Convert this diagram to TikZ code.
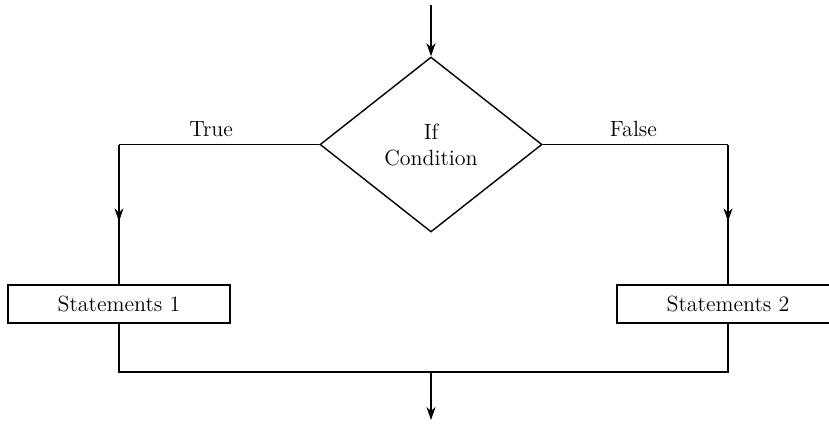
\documentclass[tikz,border=0pt]{standalone}
\usetikzlibrary{shapes.geometric,arrows.meta,decorations.markings}
\tikzset{
  flowline/.style={line width=0.7pt},
  midarrow/.style={flowline,decoration={markings,mark=at position 0.55 with {\arrow{Stealth[length=6.5pt,width=4.5pt,inset=2pt]}}},postaction={decorate}},
  endarrow/.style={flowline,-{Stealth[length=6.5pt,width=4.5pt,inset=2pt]}},
  decision/.style={diamond,draw,flowline,aspect=1.27,minimum width=111pt,minimum height=87.5pt,inner sep=0pt,align=center},
  stmtbox/.style={rectangle,draw,flowline,minimum width=111pt,minimum height=19pt,inner sep=0pt}
}
\begin{document}
\begin{tikzpicture}[x=0.5pt,y=-0.5pt,font=\fontsize{11}{13}\selectfont]
\useasboundingbox (0,0) rectangle (829,425);
%\draw[step=50,gray,very thin] (0,0) grid (829,425); %background grid
\coordinate (start) at (431,5);
\node[decision] (cond) at (431,144.5) {If\\Condition};
\node[stmtbox] (s1) at (119,304) {Statements 1};
\node[stmtbox] (s2) at (728,304) {Statements 2};
\coordinate (tl) at (s1 |- cond.west); %true corner
\coordinate (tr) at (s2 |- cond.east); %false corner
\coordinate (bl) at (119,372);
\coordinate (br) at (728,372);
\coordinate (bm) at (431,372);
\coordinate (stop) at (431,420);
\draw[endarrow] (start) -- (cond.north);
\draw[flowline] (cond.west) -- node[above,pos=0.54]{True} (tl);
\draw[flowline] (cond.east) -- node[above,pos=0.49]{False} (tr);
\draw[midarrow] (tl) -- (s1.north);
\draw[midarrow] (tr) -- (s2.north);
\draw[flowline] (s1.south) -- (bl) -- (br) -- (s2.south);
\draw[endarrow] (bm) -- (stop);
\end{tikzpicture}
\end{document}
